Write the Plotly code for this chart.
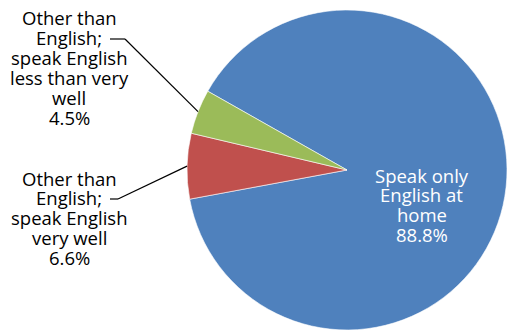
import numpy as np
import plotly.graph_objects as go

# Language spoken at home (percent of population)
categories = [
    "Speak only<br>English at<br>home",
    "Other than<br>English;<br>speak English<br>very well",
    "Other than<br>English;<br>speak English<br>less than very<br>well",
]
values = [88.8, 6.6, 4.5]
colors = ["#4F81BD", "#C0504D", "#9BBB59"]

W, H = 507, 331
ROT = -60.5  # start of first slice, degrees clockwise from 12 o'clock

# pie placement in pixels
dom_x = [187 / W, 1.0]
dom_y = [0.0, 1 - 9 / H]
cx = (dom_x[0] + dom_x[1]) / 2 * W
cy = (1 - (dom_y[0] + dom_y[1]) / 2) * H
R = min((dom_x[1] - dom_x[0]) * W, (dom_y[1] - dom_y[0]) * H) / 2

fig = go.Figure(go.Pie(
    labels=categories,
    values=values,
    sort=False,
    direction="clockwise",
    rotation=ROT,
    marker=dict(colors=colors, line=dict(color="white", width=0.6)),
    textinfo="none",
    hoverinfo="label+percent",
    domain=dict(x=dom_x, y=dom_y),
    showlegend=False,
))

FONT = dict(family="Open Sans, sans-serif", size=18.5)
LINE_GAP = 19.8  # px between label lines


def px(x, y):
    return x / W, 1 - y / H


# mid-angle (clockwise from 12 o'clock) of each slice
fr = np.array(values) / np.sum(values)
starts = ROT + 360 * np.concatenate([[0], np.cumsum(fr)[:-1]])
mids = np.deg2rad(starts + 360 * fr / 2)


def edge_point(i):
    return cx + R * np.sin(mids[i]), cy - R * np.cos(mids[i])


annotations = []
shapes = []


def add_label(i, x_c, y_top, color):
    """Stack the category lines and the percentage, one text row each."""
    rows = categories[i].split("<br>") + [f"{values[i]:.1f}%"]
    for k, row in enumerate(rows):
        x, y = px(x_c, y_top + k * LINE_GAP)
        annotations.append(dict(
            x=x, y=y, xref="paper", yref="paper", showarrow=False,
            xanchor="center", yanchor="middle", text=row,
            font=dict(FONT, color=color), align="center",
        ))


# label inside the large slice
add_label(0, 421.5, 175, "white")

# outside labels with leader lines: (label center x, first row y, knee y, knee x)
outside = {2: (69, 18, 39, 125), 1: (69, 178, 199, 118)}
for i, (lx, ly, ky, kx1) in outside.items():
    add_label(i, lx, ly, "black")
    ex, ey = edge_point(i)
    kx0 = 110
    for (x0, y0), (x1, y1) in [((kx0, ky), (kx1, ky)), ((kx1, ky), (ex, ey))]:
        a0, b0 = px(x0, y0)
        a1, b1 = px(x1, y1)
        shapes.append(dict(type="line", xref="paper", yref="paper",
                           x0=a0, y0=b0, x1=a1, y1=b1,
                           line=dict(color="black", width=1.2)))

fig.update_layout(
    width=W, height=H,
    margin=dict(l=0, r=0, t=0, b=0),
    paper_bgcolor="white",
    plot_bgcolor="white",
    annotations=annotations,
    shapes=shapes,
)

fig.write_html("out.html")
